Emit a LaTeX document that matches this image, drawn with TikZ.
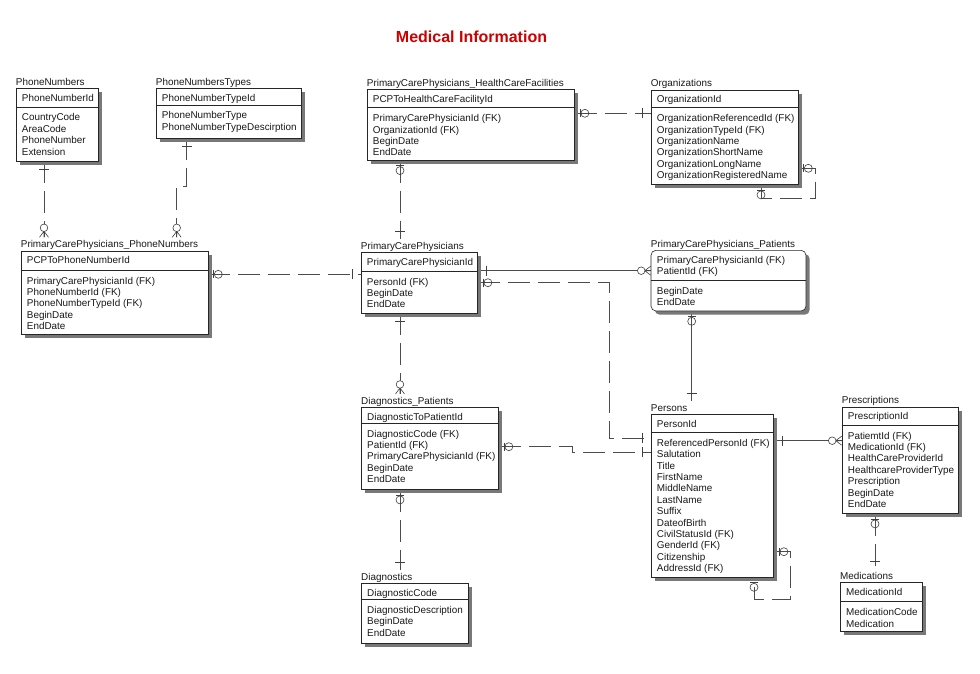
\documentclass[tikz,border=0pt]{standalone}
\usepackage{fontspec}
\setmainfont{Liberation Sans}
\usetikzlibrary{calc}
\pgfdeclarelayer{bg}
\pgfdeclarelayer{paper}
\pgfsetlayers{paper,bg,main}
\definecolor{titlered}{RGB}{204,0,0}
\definecolor{shadowc}{RGB}{120,120,120}
\tikzset{
  entshape/.style={},
  ebox/.style={draw=black!85, line width=0.6pt, fill=white, inner sep=0pt, entshape},
  sepline/.style={draw=black!85, line width=0.6pt},
  shad/.style={fill=shadowc, entshape},
  txt/.style={inner sep=0pt, font=\fontsize{9.9}{11.4}\selectfont, text=black!90},
  rel/.style={draw=black!70, line width=0.6pt},
  nid/.style={rel, dash pattern=on 22pt off 8pt},
  sym/.style={draw=black!75, line width=0.6pt},
  onebar/.pic={\draw[sym] (8,-5) -- (8,5);},
  zeroone/.pic={\draw[sym] (5,-4) -- (5,4); \draw[sym] (10,0) circle (4);},
  zeromany/.pic={\draw[sym] (0,-4.5) -- (6,0) -- (0,4.5) (0,0) -- (6,0); \draw[sym, fill=white] (9.5,0) circle (3.8);},
}
\newcommand\entity[9]{%
  \fill[shad] (#2+4,#3+4) rectangle (#4+4,#5+4);
  \node[ebox, anchor=north west, minimum width={(#4-#2)*1pt}, minimum height={(#5-#3)*1pt}] (#1) at (#2,#3) {};
  \draw[sepline] (#2,#6) -- (#4,#6);
  \node[txt, anchor=base west] (#1L) at (#2,#3-3) {#7};
  \foreach \t [count=\i from 0] in {#8} {\node[txt, anchor=base west] (#1h\i) at (#2+6,#3+13+\i*11.4) {\t};}
  \foreach \t [count=\i from 0] in {#9} {\node[txt, anchor=base west] (#1b\i) at (#2+6,#6+14+\i*11.4) {\t};}
}
\begin{document}
\begin{tikzpicture}[x=1pt,y=-1pt]
\begin{pgfonlayer}{paper}
\fill[white] (0,0) rectangle (980,674);
\end{pgfonlayer}
\useasboundingbox (0,0) rectangle (980,674);
\node[font=\bfseries\fontsize{16}{19}\selectfont, text=titlered, anchor=base, inner sep=0pt] (title) at (471.5,42.8) {Medical Information};

\entity{pn}{15.7}{88.3}{97.7}{160.7}{107}{PhoneNumbers}{PhoneNumberId}{CountryCode,AreaCode,PhoneNumber,Extension}
\entity{pnt}{155.7}{88.3}{301}{137.7}{105}{PhoneNumbersTypes}{PhoneNumberTypeId}{PhoneNumberType,PhoneNumberTypeDescirption}
\entity{ppn}{20.7}{250.7}{207.7}{334}{270}{PrimaryCarePhysicians\_PhoneNumbers}{PCPToPhoneNumberId}{PrimaryCarePhysicianId (FK),PhoneNumberId (FK),PhoneNumberTypeId (FK),BeginDate,EndDate}
\entity{phc}{366.7}{89.3}{574.3}{160}{107.7}{PrimaryCarePhysicians\_HealthCareFacilities}{PCPToHealthCareFacilityId}{PrimaryCarePhysicianId (FK),OrganizationId (FK),BeginDate,EndDate}
\entity{org}{650.7}{90}{797.7}{184.3}{107.7}{Organizations}{OrganizationId}{OrganizationReferencedId (FK),OrganizationTypeId (FK),OrganizationName,OrganizationShortName,OrganizationLongName,OrganizationRegisteredName}
\entity{pcp}{360.7}{252.3}{477.3}{312.7}{271}{PrimaryCarePhysicians}{PrimaryCarePhysicianId}{PersonId (FK),BeginDate,EndDate}
\begin{scope}
\tikzset{entshape/.style={rounded corners=5pt}}
\entity{pat}{650.7}{250}{805.7}{310.7}{280}{PrimaryCarePhysicians\_Patients}{PrimaryCarePhysicianId (FK),PatientId (FK)}{BeginDate,EndDate}
\end{scope}
\entity{dp}{361}{407.3}{498.3}{489.3}{423}{Diagnostics\_Patients}{DiagnosticToPatientId}{DiagnosticCode (FK),PatientId (FK),PrimaryCarePhysicianId (FK),BeginDate,EndDate}
\entity{dg}{361}{583.3}{467.7}{643.3}{599.3}{Diagnostics}{DiagnosticCode}{DiagnosticDescription,BeginDate,EndDate}
\entity{per}{650.7}{414.3}{773.3}{576.7}{432.3}{Persons}{PersonId}{ReferencedPersonId (FK),Salutation,Title,FirstName,MiddleName,LastName,Suffix,DateofBirth,CivilStatusId (FK),GenderId (FK),Citizenship,AddressId (FK)}
\entity{pre}{841.7}{406.7}{958.3}{513.3}{425}{Prescriptions}{PrescriptionId}{PatiemtId (FK),MedicationId (FK),HealthCareProviderId,HealthcareProviderType,Prescription,BeginDate,EndDate}
\entity{med}{840}{582.3}{921.7}{631}{601.7}{Medications}{MedicationId}{MedicationCode,Medication}

% connector end points
\coordinate (c1a) at (44,0 |- pn.south);
\coordinate (c1b) at ($(44,0 |- ppnL.north)+(0,-3)$);
\coordinate (c2a) at (186.7,0 |- pnt.south);
\coordinate (c2b) at ($(176.7,0 |- ppnL.north)+(0,-3)$);
\coordinate (c3a) at (ppn.east |- 0,274.3);
\coordinate (c3b) at (pcp.west |- 0,274.3);
\coordinate (c4a) at (phc.east |- 0,113.3);
\coordinate (c4b) at (org.west |- 0,113.3);
\coordinate (c5a) at (400,0 |- phc.south);
\coordinate (c5b) at ($(400,0 |- pcpL.north)+(0,-3)$);
\coordinate (c6a) at (org.east |- 0,168.3);
\coordinate (c6b) at (761,0 |- org.south);
\coordinate (c7a) at (pcp.east |- 0,270.7);
\coordinate (c7b) at (pat.west |- 0,270.7);
\coordinate (c8a) at (pcp.east |- 0,282.7);
\coordinate (c8b) at (per.west |- 0,438.3);
\coordinate (c9a) at (400,0 |- pcp.south);
\coordinate (c9b) at ($(400,0 |- dpL.north)+(0,-3)$);
\coordinate (c10a) at (691.7,0 |- pat.south);
\coordinate (c10b) at ($(691.7,0 |- perL.north)+(0,-3)$);
\coordinate (c11a) at (dp.east |- 0,446.7);
\coordinate (c11b) at (per.west |- 0,452.3);
\coordinate (c12a) at (400,0 |- dp.south);
\coordinate (c12b) at ($(400,0 |- dgL.north)+(0,-3)$);
\coordinate (c13a) at (per.east |- 0,440.7);
\coordinate (c13b) at (pre.west |- 0,440.7);
\coordinate (c14a) at (per.east |- 0,551.7);
\coordinate (c14b) at (754,0 |- per.south);
\coordinate (c15a) at (875,0 |- pre.south);
\coordinate (c15b) at ($(875,0 |- medL.north)+(0,-3)$);

\begin{pgfonlayer}{bg}
\draw[nid] (c1a) -- (c1b);
\draw[nid] (c2a) |- (176.7,186.7) -- (c2b);
\draw[nid] (c3a) -- (c3b);
\draw[nid] (c4a) -- (c4b);
\draw[nid] (c5a) -- (c5b);
\draw[nid] (c6a) -| (815,198.3) -| (c6b);
\draw[rel] (c7a) -- (c7b);
\draw[nid] (c8a) -| (609.3,438.3) -- (c8b);
\draw[nid] (c9a) -- (c9b);
\draw[rel] (c10a) -- (c10b);
\draw[nid] (c11a) -- (572.7,446.7) |- (c11b);
\draw[nid] (c12a) -- (c12b);
\draw[rel] (c13a) -- (c13b);
\draw[nid] (c14a) -| (790,599.3) -| (c14b);
\draw[nid] (c15a) -- (c15b);
\end{pgfonlayer}

% relationship symbols
\pic[rotate=-90] at (c1a) {onebar};
\pic[rotate=90] at (c1b) {zeromany};
\pic[rotate=-90] at (c2a) {onebar};
\pic[rotate=90] at (c2b) {zeromany};
\pic at (c3a) {zeroone};
\pic[rotate=180] at (c3b) {onebar};
\pic at (c4a) {zeroone};
\pic[rotate=180] at (c4b) {onebar};
\pic[rotate=-90] at (c5a) {zeroone};
\pic[rotate=90] at (c5b) {onebar};
\pic at (c6a) {zeroone};
\pic[rotate=-90] at (c6b) {zeroone};
\pic at (c7a) {onebar};
\pic[rotate=180] at (c7b) {zeromany};
\pic at (c8a) {zeroone};
\pic[rotate=180] at (c8b) {onebar};
\pic[rotate=-90] at (c9a) {onebar};
\pic[rotate=90] at (c9b) {zeromany};
\pic[rotate=-90] at (c10a) {zeroone};
\pic[rotate=90] at (c10b) {onebar};
\pic at (c11a) {zeroone};
\pic[rotate=180] at (c11b) {onebar};
\pic[rotate=-90] at (c12a) {zeroone};
\pic[rotate=90] at (c12b) {onebar};
\pic at (c13a) {onebar};
\pic[rotate=180] at (c13b) {zeromany};
\pic at (c14a) {zeroone};
\pic[rotate=-90] at (c14b) {zeroone};
\pic[rotate=-90] at (c15a) {zeroone};
\pic[rotate=90] at (c15b) {onebar};
\end{tikzpicture}
\end{document}
